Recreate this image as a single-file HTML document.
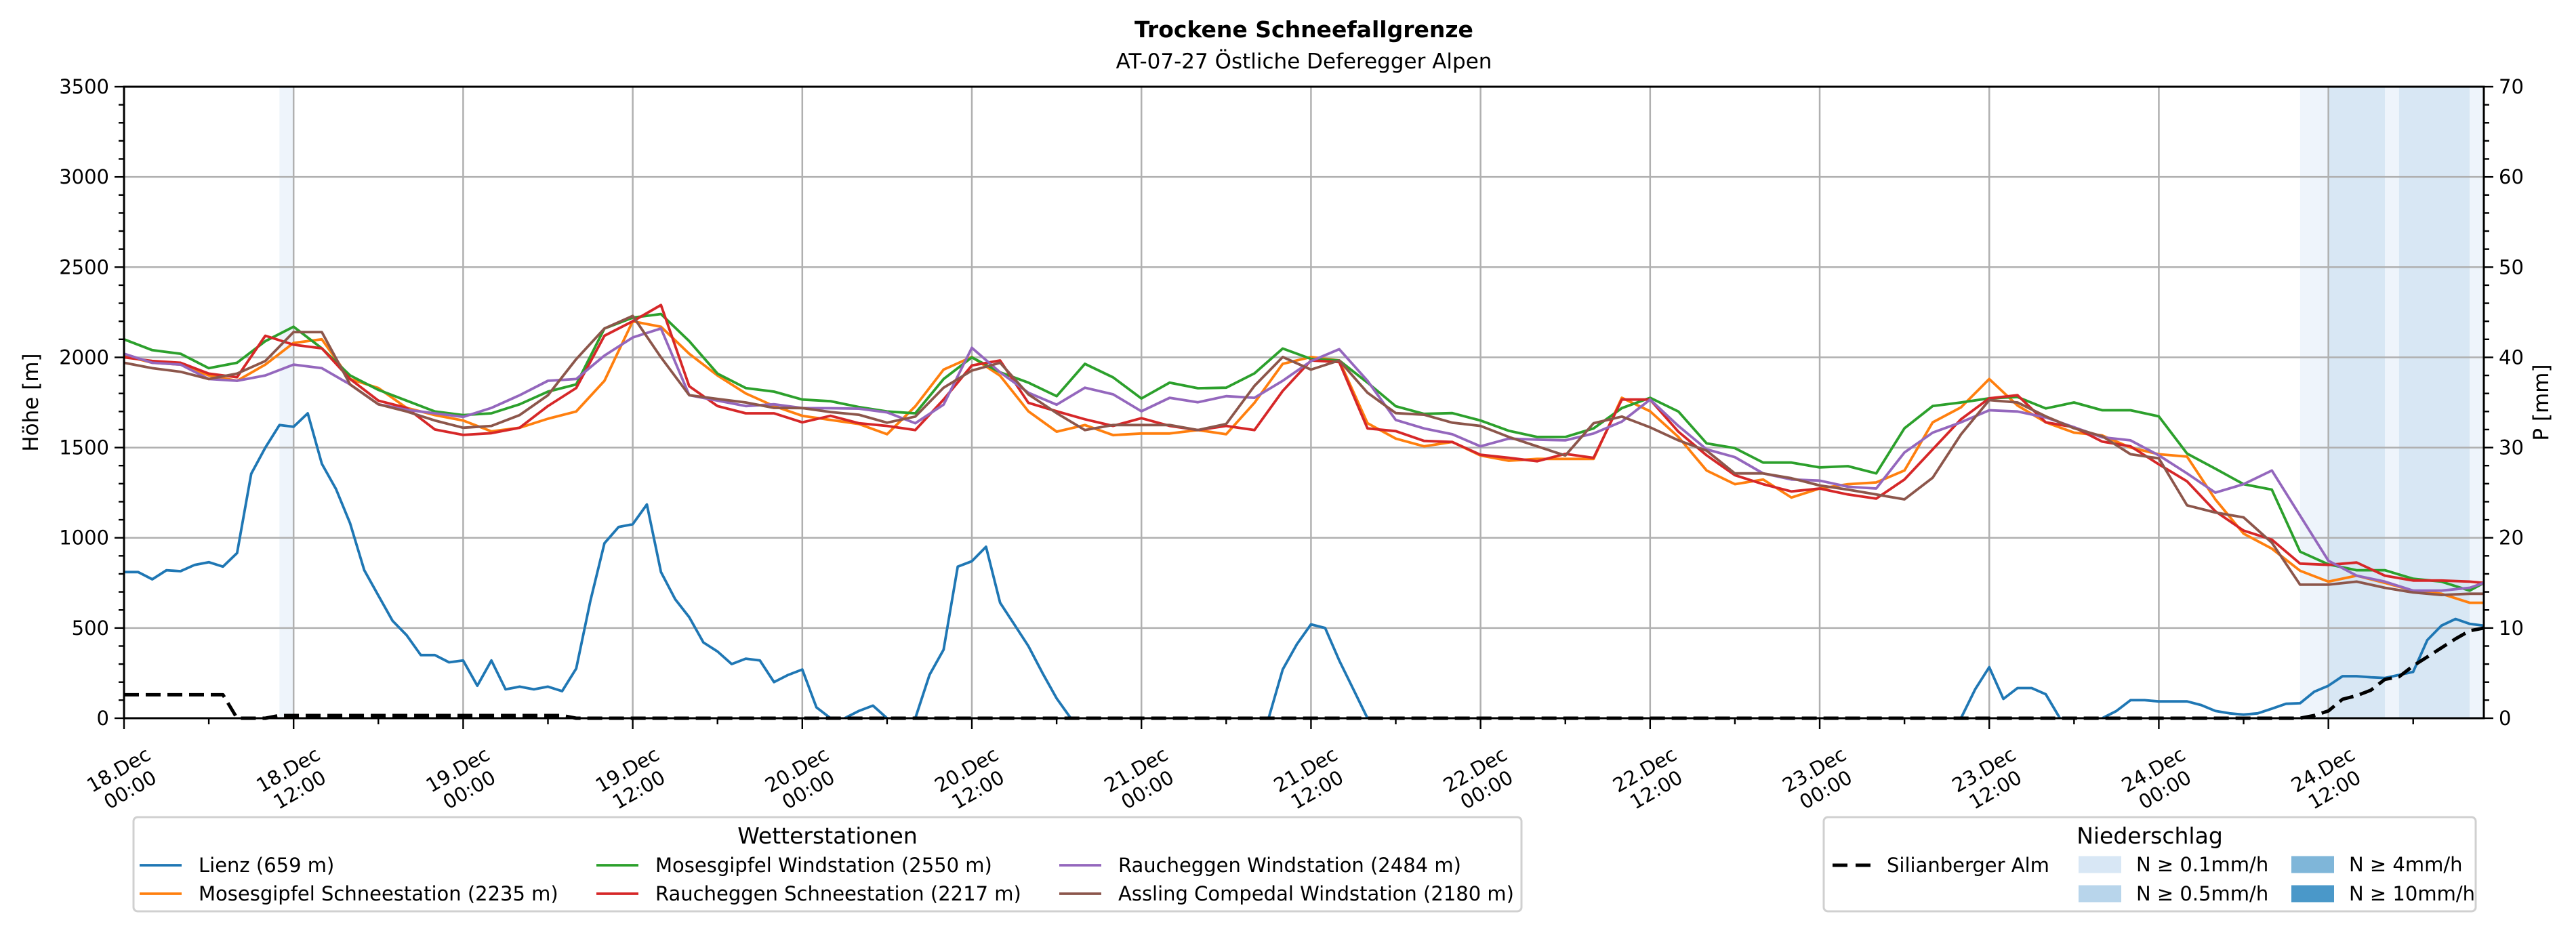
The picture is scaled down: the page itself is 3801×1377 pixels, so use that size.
<!DOCTYPE html>
<html><head><meta charset="utf-8"><style>
html,body{margin:0;padding:0;background:#fff;}
svg{display:block;font-family:"DejaVu Sans","Liberation Sans",sans-serif;}
</style></head><body>
<svg id="chart" width="3801" height="1377" viewBox="0 0 3801 1377" xmlns="http://www.w3.org/2000/svg">
<rect x="0" y="0" width="3801" height="1377" fill="#fff"/>
<text x="1924" y="55" font-size="33" font-weight="bold" text-anchor="middle">Trockene Schneefallgrenze</text>
<text x="1924" y="101" font-size="31" text-anchor="middle">AT-07-27 Östliche Deferegger Alpen</text>
<g id="plot"></g>
</svg>
<script>
// ---- data ----
const hours2 = [0,2,4,6,8,10,12,14,16,18,20,22,24,26,28,30,32,34,36,38,40,42,44,46,48,50,52,54,56,58,60,62,64,66,68,70,72,74,76,78,80,82,84,86,88,90,92,94,96,98,100,102,104,106,108,110,112,114,116,118,120,122,124,126,128,130,132,134,136,138,140,142,144,146,148,150,152,154,156,158,160,162,164,166,167];
const mosesSchnee = [2010,1970,1960,1900,1870,1960,2080,2100,1880,1830,1720,1680,1650,1590,1610,1660,1700,1870,2200,2170,2020,1900,1800,1730,
1676,1653,1631,1574,1729,1932,2002,1898,1701,1588,1625,1569,1578,1578,1597,1574,1748,1964,2002,1983,1635,1550,1507,1531,1456,1427,1437,1437,1437,1776,1701,1559,
1373,1297,1323,1223,1273,1297,1307,1373,1640,1723,1880,1733,1640,1583,1567,1500,1463,1450,1213,1023,940,817,757,790,750,707,690,640,640];
const mosesWind = [2100,2040,2020,1940,1970,2090,2170,2050,1900,1820,1760,1700,1680,1690,1740,1810,1850,2160,2220,2240,2090,1910,1830,1810,
1766,1757,1725,1700,1690,1880,2000,1917,1860,1785,1964,1889,1772,1860,1829,1832,1911,2049,1992,1983,1860,1729,1687,1691,1650,1593,1559,1559,1606,1719,1776,1700,
1523,1497,1417,1417,1390,1397,1357,1607,1730,1750,1773,1780,1717,1750,1707,1707,1673,1467,1383,1297,1267,923,853,820,820,773,757,707,750];
const rauchSchnee = [2000,1980,1970,1910,1890,2120,2070,2050,1880,1760,1720,1600,1570,1580,1610,1730,1830,2120,2200,2290,1840,1730,1690,1690,
1640,1676,1635,1620,1597,1766,1955,1983,1748,1701,1657,1620,1663,1620,1597,1620,1597,1814,1983,1974,1606,1591,1537,1531,1460,1443,1424,1465,1443,1766,1766,1588,
1457,1347,1297,1257,1273,1240,1217,1323,1490,1657,1773,1790,1640,1613,1533,1507,1407,1313,1147,1040,990,857,850,863,790,763,763,757,750];
const rauchWind = [2020,1970,1960,1880,1870,1900,1960,1940,1850,1740,1710,1690,1670,1720,1790,1870,1880,2010,2110,2160,1790,1760,1730,1740,
1719,1718,1716,1695,1635,1738,2053,1917,1804,1738,1832,1795,1701,1776,1751,1785,1776,1870,1979,2045,1870,1653,1606,1574,1507,1550,1544,1540,1578,1644,1766,1620,
1490,1447,1357,1323,1317,1283,1273,1473,1583,1640,1707,1700,1667,1613,1557,1540,1457,1357,1250,1297,1373,1123,873,790,757,707,707,723,750];
const assling = [1970,1940,1920,1880,1910,1980,2140,2140,1850,1740,1700,1650,1610,1620,1680,1790,1990,2160,2230,2000,1790,1770,1750,1720,
1719,1697,1682,1638,1672,1832,1927,1970,1795,1691,1597,1625,1625,1625,1597,1631,1842,2002,1932,1983,1804,1691,1682,1638,1620,1559,1507,1456,1635,1672,1612,1540,
1483,1357,1357,1330,1290,1267,1240,1213,1333,1573,1763,1750,1673,1607,1563,1463,1440,1180,1140,1113,973,740,740,757,723,697,683,690,690];
const lienz = [810,810,770,820,815,850,865,840,915,1355,
1500,1625,1615,1690,1410,1270,1080,820,680,540,
460,350,350,310,320,180,320,160,175,160,
175,150,275,650,970,1060,1075,1185,810,660,
560,420,370,300,330,320,200,240,270,60,
0,0,40,70,0,0,0,240,380,840,
870,950,640,520,400,250,110,0,0,0,
0,0,0,0,0,0,0,0,0,0,
0,0,270,410,520,500,320,160,0,0,
0,0,0,0,0,0,0,0,0,0,
0,0,0,0,0,0,0,0,0,0,
0,0,0,0,0,0,0,0,0,0,
0,0,0,0,0,0,0,0,0,0,
0,160,283,107,167,167,133,0,0,0,
0,40,100,100,93,93,93,73,40,27,
20,27,53,80,83,147,180,233,233,227,
223,240,257,433,513,550,523,513];
const precip = [2.6,2.6,2.6,2.6,2.6,2.6,2.6,2.6,0,0,
0,0.3,0.3,0.3,0.3,0.3,0.3,0.3,0.3,0.3,
0.3,0.3,0.3,0.3,0.3,0.3,0.3,0.3,0.3,0.3,
0.3,0.3,0,0,0,0,0,0,0,0,
0,0,0,0,0,0,0,0,0,0,
0,0,0,0,0,0,0,0,0,0,
0,0,0,0,0,0,0,0,0,0,
0,0,0,0,0,0,0,0,0,0,
0,0,0,0,0,0,0,0,0,0,
0,0,0,0,0,0,0,0,0,0,
0,0,0,0,0,0,0,0,0,0,
0,0,0,0,0,0,0,0,0,0,
0,0,0,0,0,0,0,0,0,0,
0,0,0,0,0,0,0,0,0,0,
0,0,0,0,0,0,0,0,0,0,
0,0,0,0,0,0.3,0.8,2.1,2.5,3.1,
4.3,4.6,5.8,6.8,7.8,8.8,9.7,10.0];
const bandStart = [11,154,156,160,161,166];
const bandEnd = [12,156,160,161,166,167];
const bandLevel = [0,0,1,0,1,0];
const yTicks = [0,500,1000,1500,2000,2500,3000,3500];
const pTicks = [0,10,20,30,40,50,60,70];
const xTickDays = ["18.Dec","18.Dec","19.Dec","19.Dec","20.Dec","20.Dec","21.Dec","21.Dec","22.Dec","22.Dec","23.Dec","23.Dec","24.Dec","24.Dec"];
const xTickTimes = ["00:00","12:00","00:00","12:00","00:00","12:00","00:00","12:00","00:00","12:00","00:00","12:00","00:00","12:00"];

// ---- layout ----
const L=183,R=3665,T=128,B=1060,HMAX=167,YMAX=3500,PMAX=70;
const X=h=>L+h*(R-L)/HMAX;
const YL=v=>B-v*(B-T)/YMAX;
const YR=p=>B-p*(B-T)/PMAX;
const NS="http://www.w3.org/2000/svg";
const plot=document.getElementById('plot');
function mk(tag,attrs,parent){const e=document.createElementNS(NS,tag);for(const k in attrs)e.setAttribute(k,attrs[k]);(parent||plot).appendChild(e);return e;}

const bandColors=['#eef4fb','#d8e7f4'];
bandStart.forEach((s,i)=>{
  const r=mk('rect',{x:X(s),y:T,width:X(bandEnd[i])-X(s),height:B-T,fill:bandColors[bandLevel[i]]});
  
  
});
for(let h=0;h<=HMAX;h+=12){const g=mk('line',{x1:X(h),x2:X(h),y1:T,y2:B,stroke:'#b0b0b0','stroke-width':2.5});
  
  }
yTicks.forEach(v=>{const g=mk('line',{x1:L,x2:R,y1:YL(v),y2:YL(v),stroke:'#b0b0b0','stroke-width':2.5});
  
  });

function path(xs,ys,color,name,width,dash,skipZero){
  let d='',pen=false;
  for(let i=0;i<xs.length;i++){
    const v=ys[i];
    let draw=true;
    if(skipZero&&v===0){const p=i>0?ys[i-1]:0,n=i<ys.length-1?ys[i+1]:0;if(p===0&&n===0)draw=false;}
    if(!draw){pen=false;continue;}
    const y=dash?YR(v):YL(v);
    d+=(pen?'L':'M')+X(xs[i]).toFixed(1)+' '+y.toFixed(1);
    pen=true;
    if(skipZero&&v===0&&i<ys.length-1&&ys[i+1]===0)pen=false;
  }
  const a={d:d,fill:'none',stroke:color,'stroke-width':width,'stroke-linejoin':'round'};
  if(dash)a['stroke-dasharray']=dash;
  const p=mk('path',a);
  
  
}
const hours1=lienz.map((_,i)=>i);
path(hours1,lienz,'#1f77b4','line-lienz',3.8,null,true);
path(hours2,mosesSchnee,'#ff7f0e','line-mosesgipfel-schneestation',3.8);
path(hours2,mosesWind,'#2ca02c','line-mosesgipfel-windstation',3.8);
path(hours2,rauchSchnee,'#d62728','line-raucheggen-schneestation',3.8);
path(hours2,rauchWind,'#9467bd','line-raucheggen-windstation',3.8);
path(hours2,assling,'#8c564b','line-assling-compedal',3.8);
path(hours1,precip,'#000','line-silianberger-alm-precip',5,'22 10');

const fr=mk('rect',{x:L,y:T,width:R-L,height:B-T,fill:'none',stroke:'#000','stroke-width':3});



for(let v=0;v<=YMAX;v+=100){const major=v%500===0;const t=mk('line',{x1:L,x2:L-(major?14:8),y1:YL(v),y2:YL(v),stroke:'#000','stroke-width':2.4});
  
  }
yTicks.forEach(v=>{const t=mk('text',{x:L-22,y:YL(v)+10,'font-size':29,'text-anchor':'end'});t.textContent=v;
  
  });
for(let p=0;p<=PMAX;p+=2){const major=p%10===0;const t=mk('line',{x1:R,x2:R+(major?14:8),y1:YR(p),y2:YR(p),stroke:'#000','stroke-width':2.4});
  
  }
pTicks.forEach(p=>{const t=mk('text',{x:R+22,y:YR(p)+10,'font-size':29,'text-anchor':'start'});t.textContent=p;
  
  });
for(let h=0;h<=HMAX;h+=6){const major=h%12===0;const t=mk('line',{x1:X(h),x2:X(h),y1:B,y2:B+(major?16:9),stroke:'#000','stroke-width':2.4});
  
  }
xTickDays.forEach((d,i)=>{
  const g=mk('g',{transform:'translate('+X(i*12)+',1150) rotate(-30)'});
  
  
  const a=mk('text',{x:0,y:-6,'font-size':29,'text-anchor':'middle'},g);a.textContent=d;
  const b=mk('text',{x:0,y:28,'font-size':29,'text-anchor':'middle'},g);b.textContent=xTickTimes[i];
});
const yl=mk('text',{transform:'translate(56,594) rotate(-90)','font-size':31,'text-anchor':'middle'});yl.textContent='Höhe [m]';


const yr=mk('text',{transform:'translate(3760,594) rotate(-90)','font-size':31,'text-anchor':'middle'});yr.textContent='P [mm]';



const lg1=mk('g',{});


mk('rect',{x:197,y:1206,width:2048,height:139,rx:6,fill:'#fff',stroke:'#d0d0d0','stroke-width':3},lg1);
const t1=mk('text',{x:1221,y:1245,'font-size':33,'text-anchor':'middle'},lg1);t1.textContent='Wetterstationen';
const entries=[['Lienz (659 m)','#1f77b4',206,1277],['Mosesgipfel Schneestation (2235 m)','#ff7f0e',206,1319],
['Mosesgipfel Windstation (2550 m)','#2ca02c',880,1277],['Raucheggen Schneestation (2217 m)','#d62728',880,1319],
['Raucheggen Windstation (2484 m)','#9467bd',1563,1277],['Assling Compedal Windstation (2180 m)','#8c564b',1563,1319]];
entries.forEach(e=>{
  const g=mk('g',{},lg1);
  
  
  mk('line',{x1:e[2],x2:e[2]+62,y1:e[3],y2:e[3],stroke:e[1],'stroke-width':3.8},g);
  const t=mk('text',{x:e[2]+87,y:e[3]+10,'font-size':29},g);t.textContent=e[0];
});
const lg2=mk('g',{});


mk('rect',{x:2691,y:1206,width:962,height:139,rx:6,fill:'#fff',stroke:'#d0d0d0','stroke-width':3},lg2);
const t2=mk('text',{x:3172,y:1245,'font-size':33,'text-anchor':'middle'},lg2);t2.textContent='Niederschlag';
const sg=mk('g',{},lg2);


mk('line',{x1:2704,x2:2760,y1:1277,y2:1277,stroke:'#000','stroke-width':5,'stroke-dasharray':'22 12'},sg);
const st=mk('text',{x:2784,y:1287,'font-size':29},sg);st.textContent='Silianberger Alm';
const pe=[['N ≥ 0.1mm/h','#d8e7f5',3067,1276],['N ≥ 0.5mm/h','#b8d5eb',3067,1319],['N ≥ 4mm/h','#7fb6d9',3381,1276],['N ≥ 10mm/h','#4a98c9',3381,1319]];
pe.forEach(e=>{
  const g=mk('g',{},lg2);
  
  
  mk('rect',{x:e[2],y:e[3]-12.5,width:63,height:25,fill:e[1]},g);
  const t=mk('text',{x:e[2]+85,y:e[3]+10,'font-size':29},g);t.textContent=e[0];
});
</script>
</body></html>
